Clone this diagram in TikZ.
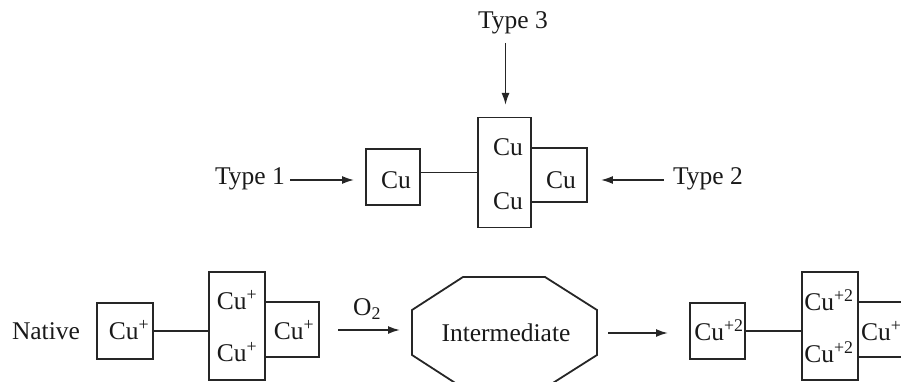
\documentclass[tikz,border=0pt]{standalone}
\usepackage{fontspec}
\setmainfont{Liberation Serif}
\usetikzlibrary{arrows.meta}
\begin{document}
\begin{tikzpicture}[x=1pt,y=-1pt,
  every node/.style={font=\fontsize{25.5}{30}\selectfont, inner sep=0pt, text=black!90},
  box/.style={draw=black!85, line width=1.8pt, inner sep=0pt},
  link/.style={draw=black!85, line width=1.8pt},
  arr/.style={draw=black!85, line width=1.8pt, -{Latex[length=12pt,width=8pt]}}]
\useasboundingbox (0,0) rectangle (901,382);
\clip (0,0) rectangle (901,382);

% --- upper row: the three copper sites ---
\node[box, minimum width=54, minimum height=56] (t1) at (393,177) {};
\node[box, minimum width=53, minimum height=110] (t3) at (504.5,172.5) {};
\node[box, minimum width=56, minimum height=54] (t2) at (559,175) {};
\node (t1cu) at (396,180) {Cu};
\node (t3cua) at (508,147) {Cu};
\node (t3cub) at (508,201) {Cu};
\node (t2cu) at (561,180) {Cu};
\draw[link] (t1.east |- t3.west) -- (t3.west);

\node (ty3) at (513,23) {Type 3};
\node (ty1) at (250,179) {Type 1};
\node (ty2) at (708,179) {Type 2};
\coordinate (a3s) at (505.5,43);
\coordinate (a3e) at (505.5,105);
\draw[arr] (a3s) -- (a3e);
\draw[arr] ([xshift=5pt]ty1.east |- t1cu) -- ([xshift=-11pt]t1.west |- t1cu);
\draw[arr] ([xshift=-9pt]ty2.west |- t2cu) -- ([xshift=13pt]t2.east |- t2cu);

% --- lower row: native site, intermediate and oxidised site ---
\node (nat) at (46,331) {Native};
\node[box, minimum width=56, minimum height=56] (b1) at (125,331) {};
\node[box, minimum width=56, minimum height=108] (b3) at (237,326) {};
\node[box, minimum width=54, minimum height=55] (b2) at (292,329.5) {};
\node (b1cu) at (129,330) {Cu\textsuperscript{+}};
\node (b3cua) at (237,300) {Cu\textsuperscript{+}};
\node (b3cub) at (237,352) {Cu\textsuperscript{+}};
\node (b2cu) at (294,330) {Cu\textsuperscript{+}};
\draw[link] (b1.east) -- (b1.east -| b3.west);

\draw[box] (412,310) -- (463,277) -- (545,277) -- (597,310) -- (597,355)
  -- (545,388) -- (463,388) -- (412,355) -- cycle;
\node (inter) at (506,333) {Intermediate};
\coordinate (o2s) at (338,330);
\coordinate (o2e) at (400,330);
\draw[arr] (o2s) -- (o2e);
\node (o2) at (367,309) {O\textsubscript{2}};
\coordinate (ps) at (608,333);
\coordinate (pe) at (668,333);
\draw[arr] (ps) -- (pe);

\node[box, minimum width=55, minimum height=56] (c1) at (717.5,331) {};
\node[box, minimum width=56, minimum height=108] (c3) at (830,326) {};
\node[box, minimum width=56, minimum height=55] (c2) at (886,329.5) {};
\node (c1cu) at (719,330) {Cu\textsuperscript{+2}};
\node (c3cua) at (829,300) {Cu\textsuperscript{+2}};
\node (c3cub) at (829,352) {Cu\textsuperscript{+2}};
\node[anchor=west] (c2cu) at (861,330) {Cu\textsuperscript{+2}};
\draw[link] (c1.east) -- (c1.east -| c3.west);
\end{tikzpicture}
\end{document}
